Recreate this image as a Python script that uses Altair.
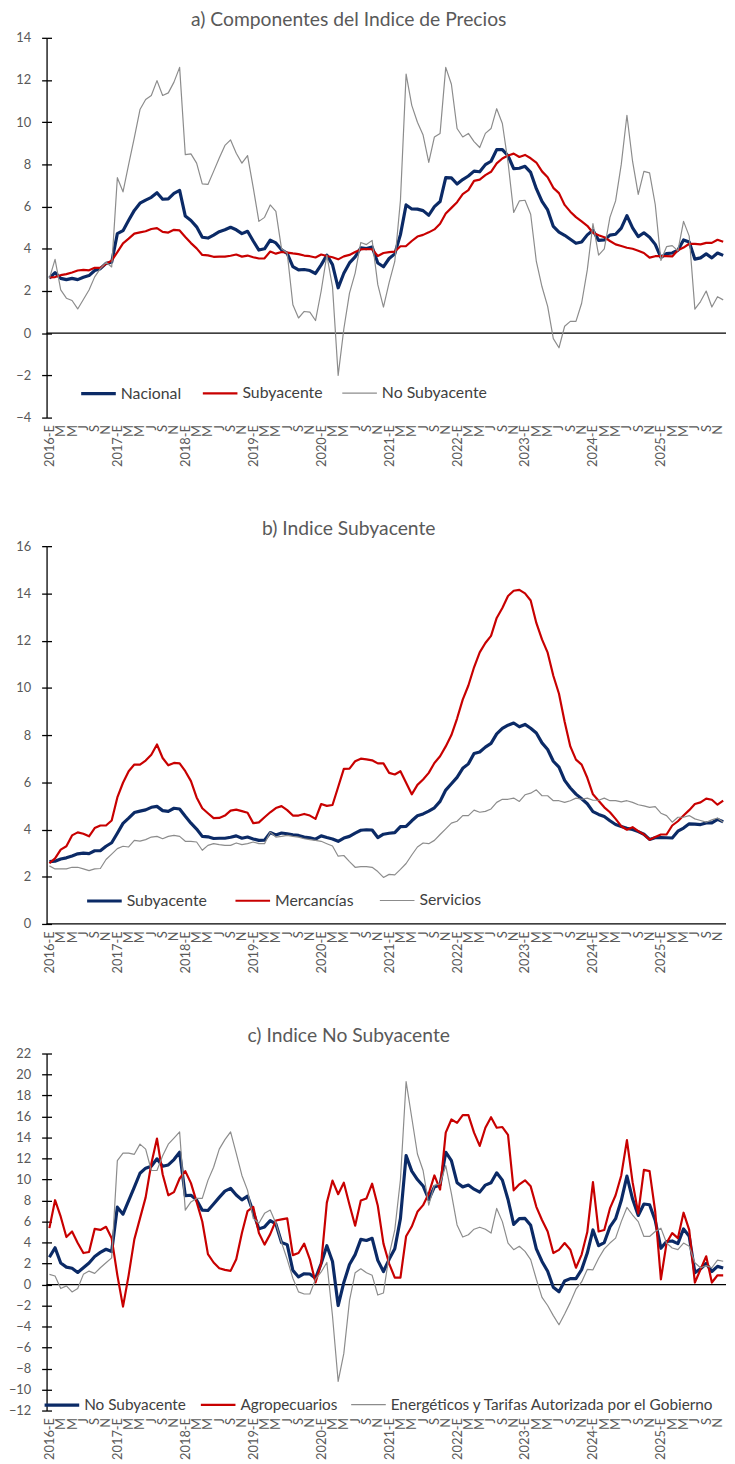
import altair as alt
import pandas as pd

FONT = "Lato"
START_YEAR = 2016
month_letters = ["E", "F", "M", "A", "M", "J", "J", "A", "S", "O", "N", "D"]

nacional = [
    2.61, 2.87, 2.60, 2.54, 2.60, 2.54, 2.65, 2.73, 2.97, 3.06, 3.31, 3.36,
    4.72, 4.86, 5.35, 5.82, 6.16, 6.31, 6.44, 6.66, 6.35, 6.37, 6.63, 6.77,
    5.55, 5.34, 5.04, 4.55, 4.51, 4.65, 4.81, 4.90, 5.02, 4.90, 4.72, 4.83,
    4.37, 3.94, 4.00, 4.41, 4.28, 3.95, 3.78, 3.16, 3.00, 3.02, 2.97, 2.83,
    3.24, 3.70, 3.25, 2.15, 2.84, 3.33, 3.62, 4.05, 4.01, 4.09, 3.33, 3.15,
    3.54, 3.76, 4.67, 6.08, 5.89, 5.88, 5.81, 5.59, 6.00, 6.24, 7.37, 7.36,
    7.07, 7.28, 7.45, 7.68, 7.65, 7.99, 8.15, 8.70, 8.70, 8.41, 7.80, 7.82,
    7.91, 7.62, 6.85, 6.25, 5.84, 5.06, 4.79, 4.64, 4.45, 4.26, 4.32, 4.66,
    4.88, 4.40, 4.42, 4.65, 4.69, 4.98, 5.57, 4.99, 4.58, 4.76, 4.55, 4.21,
    3.59, 3.77, 3.80, 3.93, 4.42, 4.32, 3.51, 3.57, 3.76, 3.57, 3.80, 3.69,
]

subyacente = [
    2.64, 2.66, 2.75, 2.80, 2.88, 2.97, 3.00, 2.98, 3.10, 3.10, 3.29, 3.44,
    3.84, 4.26, 4.48, 4.72, 4.78, 4.83, 4.94, 4.98, 4.80, 4.77, 4.90, 4.87,
    4.56, 4.27, 4.02, 3.71, 3.69, 3.62, 3.63, 3.63, 3.67, 3.73, 3.63, 3.68,
    3.60, 3.54, 3.55, 3.87, 3.77, 3.85, 3.82, 3.78, 3.75, 3.68, 3.65, 3.59,
    3.73, 3.66, 3.60, 3.50, 3.64, 3.71, 3.85, 3.97, 3.99, 3.98, 3.66, 3.80,
    3.84, 3.87, 4.12, 4.13, 4.37, 4.58, 4.66, 4.78, 4.92, 5.19, 5.67, 5.94,
    6.21, 6.59, 6.78, 7.22, 7.28, 7.49, 7.65, 8.05, 8.28, 8.42, 8.51, 8.35,
    8.45, 8.29, 8.09, 7.67, 7.39, 6.89, 6.64, 6.08, 5.76, 5.50, 5.30, 5.09,
    4.76, 4.64, 4.55, 4.37, 4.21, 4.13, 4.05, 4.00, 3.91, 3.80, 3.58, 3.65,
    3.66, 3.65, 3.64, 3.93, 4.06, 4.24, 4.23, 4.21, 4.28, 4.28, 4.43, 4.33,
]

no_subyacente = [
    2.60, 3.50, 2.05, 1.66, 1.55, 1.15, 1.60, 2.05, 2.67, 3.06, 3.36, 3.14,
    7.37, 6.70, 8.00, 9.27, 10.60, 11.08, 11.27, 11.97, 11.27, 11.39, 11.90, 12.60,
    8.46, 8.50, 8.06, 7.08, 7.05, 7.67, 8.30, 8.90, 9.16, 8.53, 8.06, 8.42,
    6.90, 5.30, 5.49, 6.08, 5.77, 4.00, 3.80, 1.35, 0.72, 1.03, 1.00, 0.60,
    2.00, 3.70, 2.20, -2.00, 0.20, 1.90, 2.85, 4.30, 4.20, 4.40, 2.30, 1.24,
    2.40, 3.40, 6.30, 12.28, 10.80, 10.00, 9.39, 8.10, 9.30, 9.47, 12.60, 11.80,
    9.70, 9.30, 9.47, 9.08, 8.80, 9.47, 9.70, 10.64, 9.94, 8.10, 5.72, 6.27,
    6.30, 5.64, 3.40, 2.20, 1.27, -0.26, -0.69, 0.33, 0.56, 0.56, 1.42, 3.00,
    5.20, 3.70, 4.00, 5.49, 6.27, 8.00, 10.33, 8.14, 6.58, 7.67, 7.60, 6.10,
    3.45, 4.10, 4.15, 3.90, 5.30, 4.60, 1.14, 1.50, 2.00, 1.24, 1.73, 1.58,
]

mercancias = [
    2.57, 2.78, 3.15, 3.29, 3.75, 3.88, 3.82, 3.71, 4.06, 4.17, 4.17, 4.38,
    5.36, 5.98, 6.47, 6.75, 6.75, 6.92, 7.17, 7.60, 7.03, 6.72, 6.82, 6.80,
    6.47, 6.05, 5.36, 4.90, 4.69, 4.48, 4.49, 4.59, 4.80, 4.84, 4.78, 4.71,
    4.27, 4.30, 4.52, 4.73, 4.91, 4.99, 4.82, 4.59, 4.59, 4.66, 4.59, 4.45,
    5.08, 5.00, 5.04, 5.80, 6.57, 6.58, 6.89, 7.00, 6.97, 6.93, 6.80, 6.80,
    6.40, 6.33, 6.47, 5.98, 5.49, 5.89, 6.12, 6.40, 6.82, 7.10, 7.52, 8.00,
    8.70, 9.50, 10.10, 10.87, 11.50, 11.90, 12.20, 12.96, 13.38, 13.89, 14.11, 14.15,
    14.00, 13.70, 12.75, 12.05, 11.49, 10.51, 9.75, 8.56, 7.52, 6.96, 6.75, 6.19,
    5.49, 5.22, 4.94, 4.73, 4.45, 4.14, 3.99, 4.10, 3.93, 3.79, 3.57, 3.68,
    3.79, 3.79, 4.17, 4.35, 4.59, 4.82, 5.08, 5.15, 5.31, 5.26, 5.05, 5.22,
]

servicios = [
    2.46, 2.33, 2.33, 2.33, 2.40, 2.40, 2.33, 2.26, 2.33, 2.35, 2.73, 2.96,
    3.19, 3.29, 3.26, 3.54, 3.51, 3.57, 3.68, 3.71, 3.61, 3.71, 3.75, 3.71,
    3.50, 3.50, 3.47, 3.12, 3.33, 3.40, 3.36, 3.33, 3.33, 3.43, 3.36, 3.40,
    3.47, 3.40, 3.40, 3.89, 3.68, 3.71, 3.75, 3.71, 3.68, 3.61, 3.57, 3.54,
    3.50, 3.40, 3.30, 2.87, 2.90, 2.64, 2.40, 2.43, 2.43, 2.40, 2.22, 1.97,
    2.10, 2.08, 2.31, 2.56, 2.92, 3.26, 3.43, 3.40, 3.54, 3.79, 4.03, 4.27,
    4.35, 4.59, 4.59, 4.82, 4.73, 4.77, 4.87, 5.15, 5.28, 5.28, 5.33, 5.19,
    5.47, 5.54, 5.68, 5.43, 5.43, 5.22, 5.22, 5.15, 5.22, 5.33, 5.28, 5.33,
    5.24, 5.24, 5.33, 5.22, 5.22, 5.17, 5.22, 5.15, 5.05, 5.00, 4.94, 4.97,
    4.69, 4.59, 4.31, 4.52, 4.52, 4.59, 4.45, 4.38, 4.31, 4.41, 4.49, 4.31,
]

agropecuarios = [
    5.37, 8.03, 6.46, 4.52, 5.05, 3.95, 3.00, 3.10, 5.30, 5.20, 5.50, 4.40,
    0.90, -2.10, 0.90, 4.30, 6.30, 8.30, 11.50, 13.90, 10.50, 8.50, 8.80, 10.10,
    10.80, 9.66, 7.87, 6.00, 2.90, 2.10, 1.55, 1.40, 1.30, 2.40, 4.90, 7.00,
    7.40, 4.90, 3.80, 4.80, 6.10, 6.20, 6.30, 2.80, 3.00, 3.90, 2.40, 0.20,
    2.00, 7.80, 9.90, 8.60, 9.70, 7.60, 5.60, 8.00, 8.20, 9.60, 7.50, 3.90,
    2.00, 0.66, 0.66, 4.60, 5.52, 6.93, 7.56, 8.66, 10.39, 9.04, 14.46, 15.72,
    15.40, 16.13, 16.13, 14.46, 13.20, 14.93, 15.94, 14.93, 15.00, 14.25, 8.97, 9.54,
    9.92, 9.35, 7.40, 6.15, 5.05, 3.00, 3.30, 3.95, 3.32, 1.60, 2.85, 5.00,
    9.75, 5.05, 5.20, 7.25, 8.50, 10.39, 13.75, 9.75, 6.78, 10.92, 10.80, 6.93,
    0.50, 3.95, 4.90, 4.42, 6.84, 5.20, 0.19, 1.44, 2.69, 0.19, 0.88, 0.88,
]

energeticos = [
    0.97, 0.81, -0.38, -0.13, -0.70, -0.38, 0.97, 1.28, 1.06, 1.60, 2.07, 2.54,
    11.80, 12.52, 12.52, 12.40, 13.37, 12.90, 10.86, 10.86, 12.27, 13.37, 13.94, 14.53,
    7.09, 7.87, 8.20, 8.20, 9.92, 11.17, 12.90, 13.80, 14.53, 12.49, 10.39, 8.97,
    6.30, 5.84, 6.78, 7.09, 5.84, 4.00, 2.40, 0.60, -0.70, -0.90, -0.90, 0.50,
    1.20, 2.10, -3.00, -9.23, -6.56, -1.54, 1.13, 1.50, 1.13, 0.88, -1.00, -0.80,
    2.80, 5.20, 10.00, 19.33, 15.88, 12.43, 10.86, 7.56, 9.44, 9.60, 11.33, 8.66,
    5.68, 4.52, 4.74, 5.27, 5.46, 5.27, 4.90, 7.25, 5.99, 3.95, 3.32, 3.64,
    3.16, 2.38, 0.50, -1.22, -2.00, -2.96, -3.83, -2.80, -1.70, -0.44, 0.25, 1.44,
    1.40, 2.50, 3.40, 3.95, 4.42, 5.99, 7.34, 6.62, 5.99, 4.58, 4.58, 5.05,
    5.37, 3.95, 3.48, 3.32, 3.95, 3.64, 2.07, 1.60, 1.80, 1.60, 2.32, 2.22,
]

N = len(nacional)
x_ticks = list(range(0, N, 2))

NAVY = "#0b2a66"
RED = "#c80000"
GRAY = "#8c8c8c"
TXT = "#595959"
LEG = "#404040"

arr = "[" + ",".join("'%s'" % m for m in month_letters) + "]"
label_expr = (
    "datum.value % 12 == 0 ? (" + str(START_YEAR)
    + " + floor(datum.value / 12)) + '-E' : " + arr + "[datum.value % 12]"
)


def frame(series):
    rows = []
    for name, vals in series:
        for i, v in enumerate(vals):
            rows.append({"i": i, "serie": name, "valor": v})
    return pd.DataFrame(rows)


def panel(key, series, colors, widths, title, ydom, ystep, width, height,
          leg_x, leg_y, col_pad, leg_font, x_extent):
    names = [s[0] for s in series]
    df = frame(series)
    field = "serie_" + key
    df = df.rename(columns={"serie": field})
    yvals = list(range(ydom[0], ydom[1] + 1, ystep))
    x_enc = alt.X(
        "i:Q",
        scale=alt.Scale(domain=[-0.5, N - 0.5], nice=False, zero=False),
        axis=alt.Axis(
            values=x_ticks, labelExpr=label_expr, labelAngle=270,
            labelAlign="right", labelBaseline="middle", labelPadding=7,
            ticks=False, domain=False, grid=False, title=None,
            labelFontSize=13, labelColor=TXT, labelFont=FONT,
            labelOverlap=False, minExtent=x_extent, maxExtent=x_extent,
        ),
    )
    leg = dict(
        title=None, orient="none", direction="horizontal", columns=3,
        legendX=leg_x, legendY=leg_y, symbolType="stroke", symbolSize=1225,
        labelFontSize=leg_font, labelFont=FONT, labelColor=LEG, labelOffset=3,
        columnPadding=col_pad, padding=0, labelLimit=600,
    )
    lines = alt.Chart(df).mark_line(strokeJoin="round").encode(
        x=x_enc,
        y=alt.Y(
            "valor:Q",
            scale=alt.Scale(domain=ydom, nice=False, zero=False),
            axis=alt.Axis(
                orient="left", values=yvals, tickSize=5, tickColor="black",
                tickWidth=1.3, domainColor="black", domainWidth=1.3,
                grid=False, labelPadding=11, labelFontSize=13,
                labelFont=FONT, labelColor=TXT, title=None,
                minExtent=33, maxExtent=33,
            ),
        ),
        color=alt.Color(field + ":N",
                        scale=alt.Scale(domain=names, range=colors),
                        legend=alt.Legend(**leg)),
        strokeWidth=alt.StrokeWidth(field + ":N",
                                    scale=alt.Scale(domain=names, range=widths),
                                    legend=alt.Legend(**leg)),
    )
    zero = alt.Chart(pd.DataFrame({"cero": [0]})).mark_rule(
        color="black", strokeWidth=1.3
    ).encode(
        y=alt.Y(
            "cero:Q",
            scale=alt.Scale(domain=ydom, nice=False, zero=False),
            axis=alt.Axis(
                orient="left", values=yvals, offset=-5, tickSize=5,
                tickColor="black", tickWidth=1.3, labels=False, domain=False,
                grid=False, title=None, minExtent=0, maxExtent=0,
            ),
        )
    )
    return alt.layer(zero, lines).resolve_scale(y="independent").properties(
        width=width, height=height,
        title=alt.TitleParams(
            text=title, fontSize=19.5, font=FONT, color=TXT,
            fontWeight="normal", anchor="middle", frame="group", dx=-38,
            offset=1,
        ),
    )


W = 687
WIDTHS = [3.2, 1.2, 1.1]
pa = panel(
    "a",
    [("Nacional", nacional), ("Subyacente", subyacente),
     ("No Subyacente", no_subyacente)],
    [NAVY, RED, GRAY], WIDTHS,
    "a) Componentes del Indice de Precios", [-4, 14], 2, W, 384,
    33, 340, 16, 16, 58,
)
pb = panel(
    "b",
    [("Subyacente", subyacente), ("Mercancías", mercancias),
     ("Servicios", servicios)],
    [NAVY, RED, GRAY], WIDTHS,
    "b) Indice Subyacente", [0, 16], 2, W, 382,
    39, 339, 23, 16, 59,
)
pc = panel(
    "c",
    [("No Subyacente", no_subyacente), ("Agropecuarios", agropecuarios),
     ("Energéticos y Tarifas Autorizada por el Gobierno", energeticos)],
    [NAVY, RED, GRAY], WIDTHS,
    "c) Indice No Subyacente", [-12, 22], 2, W, 361,
    -4, 336, 10, 15.5, 55,
)

chart = alt.vconcat(pa, pb, pc, spacing=44).resolve_scale(
    color="independent", strokeWidth="independent"
).resolve_legend(
    color="independent", strokeWidth="independent"
).properties(
    padding={"left": 0, "top": -6, "right": 0, "bottom": 0}
).configure_view(stroke=None)

chart.save("out.html", embed_options={"renderer": "svg", "actions": False})
